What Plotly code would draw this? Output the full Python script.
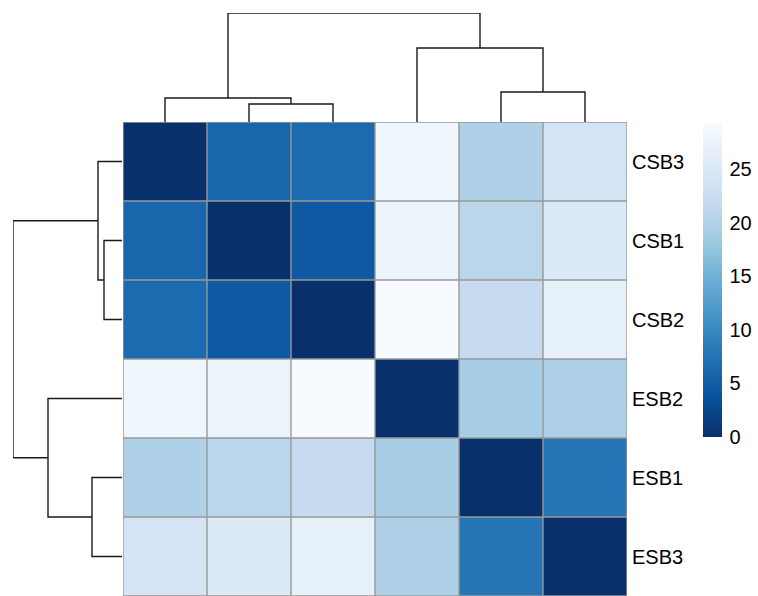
import plotly.graph_objects as go

# Sample order after hierarchical clustering (rows and columns share it)
samples = ["CSB3", "CSB1", "CSB2", "ESB2", "ESB1", "ESB3"]

# Sample-to-sample distances, one row per sample in the order above
dist_csb3 = [0.0, 6.0, 6.6, 28.0, 19.8, 24.0]
dist_csb1 = [6.0, 0.0, 4.6, 27.4, 20.9, 25.2]
dist_csb2 = [6.6, 4.6, 0.0, 29.2, 21.9, 26.6]
dist_esb2 = [28.0, 27.4, 29.2, 0.0, 19.1, 19.6]
dist_esb1 = [19.8, 20.9, 21.9, 19.1, 0.0, 7.8]
dist_esb3 = [24.0, 25.2, 26.6, 19.6, 7.8, 0.0]

# Linkage: (left node, right node, merge height); leaves are 0..5, new clusters 6..10
merge_left = [1, 0, 4, 3, 7]
merge_right = [2, 6, 5, 8, 9]
merge_height = [18, 24, 30, 74, 109]

colorbar_ticks = [0, 5, 10, 15, 20, 25]

z = [dist_csb3, dist_csb1, dist_csb2, dist_esb2, dist_esb1, dist_esb3]
n = len(samples)

# Reversed ColorBrewer "Blues"
blues = ["#08306B", "#08519C", "#2171B5", "#4292C6", "#6BAED6",
         "#9ECAE1", "#C6DBEF", "#DEEBF7", "#F7FBFF"]
colorscale = [[i / (len(blues) - 1), c] for i, c in enumerate(blues)]

W, H = 758, 596
hm_left, hm_right, hm_top, hm_bottom = 123, 627, 122, 596
tree_far = 13
label_font = dict(family="Liberation Sans, Arial", size=20, color="#000")


def px_x(p):
    return p / W


def px_y(p):
    return (H - p) / H


def dendro_segments():
    pos = {i: float(i) for i in range(n)}
    hgt = {i: 0.0 for i in range(n)}
    segs = []
    for k, (a, b, h) in enumerate(zip(merge_left, merge_right, merge_height)):
        node = n + k
        segs.append(([pos[a], pos[a], pos[b], pos[b]], [hgt[a], h, h, hgt[b]]))
        pos[node] = (pos[a] + pos[b]) / 2
        hgt[node] = h
    return segs


fig = go.Figure()

fig.add_trace(go.Heatmap(
    z=z, x=list(range(n)), y=list(range(n)),
    colorscale=colorscale, zmin=0, zmax=max(max(r) for r in z),
    xaxis="x", yaxis="y",
    colorbar=dict(
        x=px_x(703), xanchor="left", xpad=0,
        y=px_y((124 + 437) / 2), yanchor="middle", ypad=0,
        len=437 - 124, lenmode="pixels", thickness=19,
        outlinewidth=0, tickvals=colorbar_ticks,
        ticks="outside", ticklen=4, tickcolor="rgba(0,0,0,0)",
        tickfont=label_font,
    ),
    hoverongaps=False,
))

segs = dendro_segments()
# Column dendrogram above the heatmap
for xs, hs in segs:
    fig.add_trace(go.Scatter(x=xs, y=hs, mode="lines", xaxis="x2", yaxis="y2",
                             line=dict(color="#1a1a1a", width=1.4),
                             showlegend=False, hoverinfo="skip"))
# Row dendrogram left of the heatmap
for xs, hs in segs:
    fig.add_trace(go.Scatter(x=hs, y=xs, mode="lines", xaxis="x3", yaxis="y3",
                             line=dict(color="#1a1a1a", width=1.4),
                             showlegend=False, hoverinfo="skip"))

# Cell borders
shapes = []
for i in range(n + 1):
    shapes.append(dict(type="line", xref="x", yref="y", x0=i - 0.5, x1=i - 0.5,
                       y0=-0.5, y1=n - 0.5, line=dict(color="#999999", width=1.4)))
    shapes.append(dict(type="line", xref="x", yref="y", y0=i - 0.5, y1=i - 0.5,
                       x0=-0.5, x1=n - 0.5, line=dict(color="#999999", width=1.4)))

# Row labels on the right
annotations = [dict(x=px_x(630), xref="paper", xanchor="left", y=i, yref="y",
                    text=s, showarrow=False, font=label_font)
               for i, s in enumerate(samples)]

hidden = dict(showgrid=False, zeroline=False, showticklabels=False, ticks="",
              showline=False)
top_h = max(merge_height)

fig.update_layout(
    width=W, height=H, margin=dict(l=0, r=0, t=0, b=0),
    paper_bgcolor="white", plot_bgcolor="rgba(0,0,0,0)",
    showlegend=False,
    xaxis=dict(domain=[px_x(hm_left), px_x(hm_right)], range=[-0.5, n - 0.5], **hidden),
    yaxis=dict(domain=[px_y(hm_bottom), px_y(hm_top)], range=[n - 0.5, -0.5], **hidden),
    xaxis2=dict(domain=[px_x(hm_left), px_x(hm_right)], range=[-0.5, n - 0.5],
                anchor="y2", **hidden),
    yaxis2=dict(domain=[px_y(hm_top), px_y(tree_far)], range=[0, top_h],
                anchor="x2", **hidden),
    xaxis3=dict(domain=[px_x(tree_far), px_x(hm_left - 1)], range=[top_h, 0],
                anchor="y3", **hidden),
    yaxis3=dict(domain=[px_y(hm_bottom), px_y(hm_top)], range=[n - 0.5, -0.5],
                anchor="x3", **hidden),
    shapes=shapes,
    annotations=annotations,
)

fig.write_html("out.html")
